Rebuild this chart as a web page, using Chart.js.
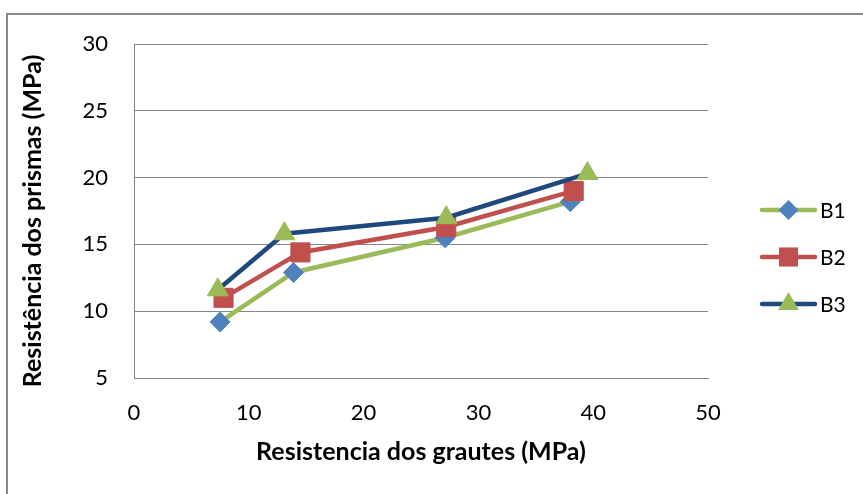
<!DOCTYPE html>
<html>
<head>
<meta charset="utf-8">
<script src="https://cdn.jsdelivr.net/npm/chart.js@4/dist/chart.umd.min.js"></script>
<style>
  html, body { margin: 0; padding: 0; background: #fff; }
  #wrap { width: 863px; height: 494px; position: relative; }
</style>
</head>
<body>
<div id="wrap"><canvas id="c" width="863" height="494"></canvas></div>
<script>
// ---- Data ----
const seriesNames = ["B1", "B2", "B3"];
const b1X = [7.5, 13.9, 27.1, 38.0];
const b1Y = [9.2, 12.9, 15.5, 18.2];
const b2X = [7.8, 14.5, 27.2, 38.3];
const b2Y = [11.0, 14.4, 16.3, 19.0];
const b3X = [7.3, 13.1, 27.2, 39.5];
const b3Y = [11.6, 15.8, 17.0, 20.3];
const xTicks = [0, 10, 20, 30, 40, 50];
const yTicks = [5, 10, 15, 20, 25, 30];
const xTitle = "Resistencia dos grautes (MPa)";
const yTitle = "Resistência dos prismas (MPa)";

const FONT = "Lato, 'Open Sans', sans-serif";
const GRID = "#868686";
const TITLE_SIZE = 25;

function pts(xs, ys) { return xs.map((x, i) => ({ x: x, y: ys[i] })); }

const styles = [
  { line: "#9BBB59", fill: "#4F81BD", shape: "rectRot", r: 10 },
  { line: "#C0504D", fill: "#C0504D", shape: "rect", r: 13.5 },
  { line: "#1F497D", fill: "#9BBB59", shape: "triangle", r: 12 }
];
const seriesData = [pts(b1X, b1Y), pts(b2X, b2Y), pts(b3X, b3Y)];

const datasets = seriesNames.map((name, i) => ({
  label: name,
  data: seriesData[i],
  showLine: true,
  borderColor: styles[i].line,
  borderWidth: 4.5,
  pointStyle: styles[i].shape,
  pointRadius: styles[i].r,
  pointHoverRadius: styles[i].r,
  pointBackgroundColor: styles[i].fill,
  pointBorderColor: styles[i].fill,
  pointBorderWidth: 1,
  tension: 0,
  order: 3 - i
}));

function drawMarker(ctx, shape, x, y, r, color) {
  ctx.save();
  ctx.fillStyle = color;
  ctx.beginPath();
  if (shape === "rectRot") {
    ctx.moveTo(x, y - r); ctx.lineTo(x + r, y); ctx.lineTo(x, y + r); ctx.lineTo(x - r, y);
  } else if (shape === "rect") {
    const s = r * Math.SQRT1_2;
    ctx.rect(x - s, y - s, 2 * s, 2 * s);
  } else {
    ctx.moveTo(x, y - r);
    ctx.lineTo(x + 0.866 * r, y + 0.5 * r);
    ctx.lineTo(x - 0.866 * r, y + 0.5 * r);
  }
  ctx.closePath();
  ctx.fill();
  ctx.restore();
}

const framePlugin = {
  id: "frame",
  beforeDraw(chart) {
    const ctx = chart.ctx;
    ctx.save();
    ctx.fillStyle = "#fff";
    ctx.fillRect(0, 0, chart.width, chart.height);
    ctx.strokeStyle = "#8a8a8a";
    ctx.lineWidth = 2;
    ctx.strokeRect(7, 14, 1000, 1000);
    ctx.restore();
  },
  afterDraw(chart) {
    const ctx = chart.ctx;
    // y-axis title (placed like the reference, slightly below plot centre)
    ctx.save();
    ctx.translate(33, 221);
    ctx.rotate(-Math.PI / 2);
    ctx.fillStyle = "#000";
    ctx.font = "bold " + TITLE_SIZE + "px " + FONT;
    ctx.textAlign = "center";
    ctx.textBaseline = "middle";
    ctx.fillText(yTitle, 0, 0);
    ctx.restore();

    // legend
    const ys = [210, 257, 304];
    ctx.save();
    seriesNames.forEach((name, i) => {
      const y = ys[i];
      ctx.strokeStyle = styles[i].line;
      ctx.lineWidth = 4.5;
      ctx.lineCap = "round";
      ctx.beginPath();
      ctx.moveTo(762, y);
      ctx.lineTo(815, y);
      ctx.stroke();
      drawMarker(ctx, styles[i].shape, 788.5, y, styles[i].r, styles[i].fill);
      ctx.fillStyle = "#000";
      ctx.font = "21px " + FONT;
      ctx.textBaseline = "middle";
      ctx.textAlign = "left";
      ctx.fillText(name, 820, y + 1);
    });
    ctx.restore();
  }
};

Chart.defaults.color = "#000";
Chart.defaults.font.family = FONT;

new Chart(document.getElementById("c"), {
  type: "scatter",
  data: { datasets: datasets },
  options: {
    responsive: false,
    animation: false,
    events: [],
    layout: { padding: { left: 8, top: 44, right: 155, bottom: 0 } },
    plugins: { legend: { display: false }, tooltip: { enabled: false } },
    scales: {
      x: {
        type: "linear",
        min: xTicks[0],
        max: xTicks[xTicks.length - 1],
        afterBuildTicks(scale) { scale.ticks = xTicks.map(v => ({ value: v })); },
        afterFit(scale) { scale.height = 116; },
        grid: { display: false, drawTicks: false },
        border: { display: true, color: GRID, width: 1 },
        ticks: { padding: 22, font: { size: 22 }, color: "#000" },
        title: {
          display: true, text: xTitle, color: "#000",
          font: { size: TITLE_SIZE, weight: "bold" },
          padding: { top: 0, bottom: 27 }
        }
      },
      y: {
        type: "linear",
        min: yTicks[0],
        max: yTicks[yTicks.length - 1],
        afterBuildTicks(scale) { scale.ticks = yTicks.map(v => ({ value: v })); },
        afterFit(scale) { scale.width = 126; },
        grid: { display: true, drawTicks: false, color: GRID, lineWidth: 1 },
        border: { display: true, color: GRID, width: 1 },
        ticks: { padding: 26, font: { size: 22 }, color: "#000" },
        title: { display: false, text: yTitle }
      }
    }
  },
  plugins: [framePlugin]
});
</script>
</body>
</html>
